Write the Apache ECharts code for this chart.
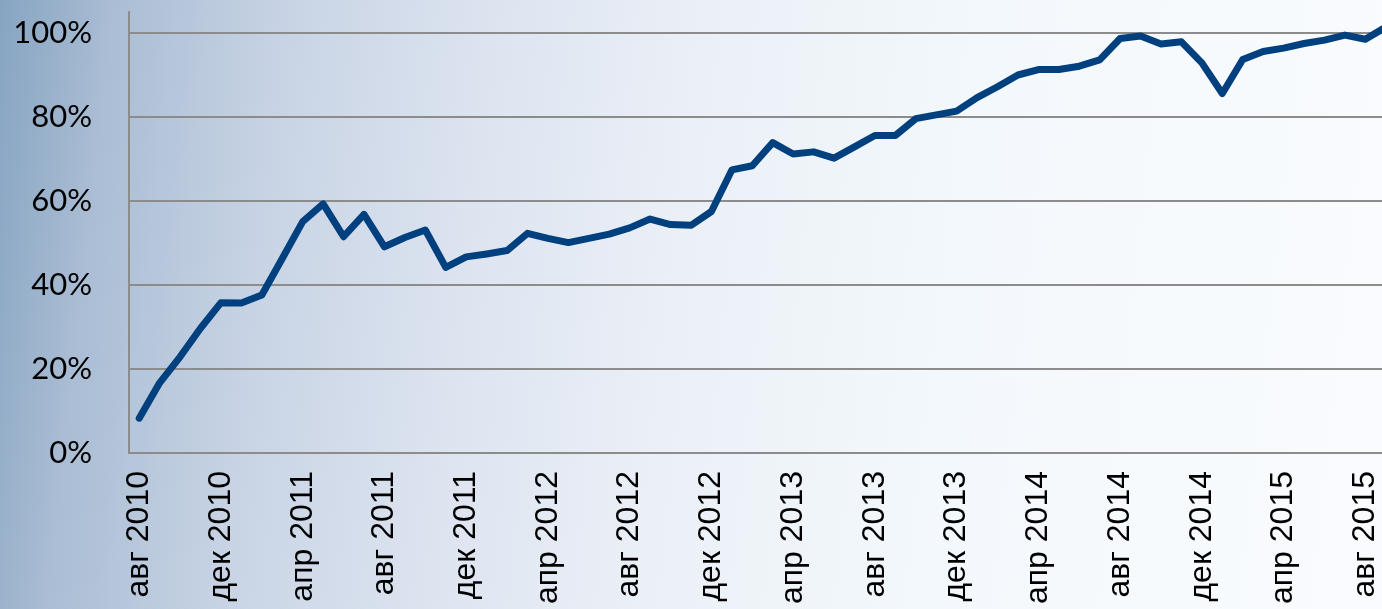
<!DOCTYPE html>
<html>
<head>
<meta charset="utf-8">
<script src="https://cdn.jsdelivr.net/npm/echarts@6/dist/echarts.min.js"></script>
<style>
html,body{margin:0;padding:0;overflow:hidden;width:1382px;height:609px;}
#chart{width:1396px;height:609px;}
</style>
</head>
<body>
<div id="chart"></div>
<script>
// Months: авг 2010 .. сен 2015
const monthNames = ['янв','фев','мар','апр','май','июн','июл','авг','сен','окт','ноя','дек'];
const categories = [];
for (let y = 2010, m = 7; !(y === 2015 && m === 9); ) {
  categories.push(monthNames[m] + ' ' + y);
  m++; if (m === 12) { m = 0; y++; }
}
// Series values (percent)
const values = [
  8.3, 16.7, 22.9, 29.7, 35.8, 35.7, 37.6, 46.3, 55.1, 59.3,
  51.5, 56.8, 49.1, 51.3, 53.1, 44.2, 46.7, 47.4, 48.2, 52.3,
  51.1, 50.1, 51.1, 52.1, 53.6, 55.7, 54.4, 54.2, 57.5, 67.4,
  68.4, 73.9, 71.2, 71.7, 70.2, 72.9, 75.6, 75.6, 79.6, 80.5,
  81.4, 84.6, 87.2, 90.0, 91.3, 91.3, 92.1, 93.6, 98.7, 99.3,
  97.4, 97.9, 92.9, 85.6, 93.7, 95.6, 96.4, 97.5, 98.3, 99.5,
  98.5, 101.4
];
const yTicks = [0, 20, 40, 60, 80, 100];

const chart = echarts.init(document.getElementById('chart'), null, {renderer: 'canvas'});
chart.setOption({
  animation: false,
  backgroundColor: {
    type: 'linear', x: 0, y: 0, x2: 1, y2: 0.25,
    colorStops: [
      {offset: 0, color: '#86a4c1'},
      {offset: 0.08, color: '#aabdd4'},
      {offset: 0.2, color: '#c7d3e4'},
      {offset: 0.35, color: '#dde4f0'},
      {offset: 0.5, color: '#ebf0f7'},
      {offset: 0.7, color: '#f3f8fc'},
      {offset: 1, color: '#f9fbfe'}
    ]
  },
  grid: {left: 129, right: 0, top: 12, bottom: 156, containLabel: false},
  xAxis: {
    type: 'category',
    data: categories,
    boundaryGap: true,
    axisLine: {show: true, lineStyle: {color: '#8c8c8c', width: 2}},
    axisTick: {show: false},
    axisLabel: {
      interval: 3,
      rotate: 90,
      margin: 18,
      color: '#000',
      fontFamily: 'Liberation Sans',
      fontSize: 32
    },
    splitLine: {show: false}
  },
  yAxis: {
    type: 'value',
    min: 0,
    max: 105,
    interval: 20,
    axisLine: {show: true, lineStyle: {color: '#8c8c8c', width: 2}},
    axisTick: {show: false},
    axisLabel: {
      showMaxLabel: false,
      margin: 37,
      color: '#000',
      fontFamily: 'Lato',
      fontSize: 31,
      formatter: function (v) { return yTicks.indexOf(v) >= 0 ? v + '%' : ''; }
    },
    splitLine: {
      show: true,
      lineStyle: {
        color: ['#8c8c8c', '#8c8c8c', '#8c8c8c', '#8c8c8c', '#8c8c8c', '#8c8c8c', 'rgba(0,0,0,0)'],
        width: 2
      }
    }
  },
  series: [{
    type: 'line',
    data: values,
    symbol: 'none',
    smooth: false,
    clip: true,
    lineStyle: {color: '#00407e', width: 7, cap: 'round', join: 'round'}
  }]
});
</script>
</body>
</html>
